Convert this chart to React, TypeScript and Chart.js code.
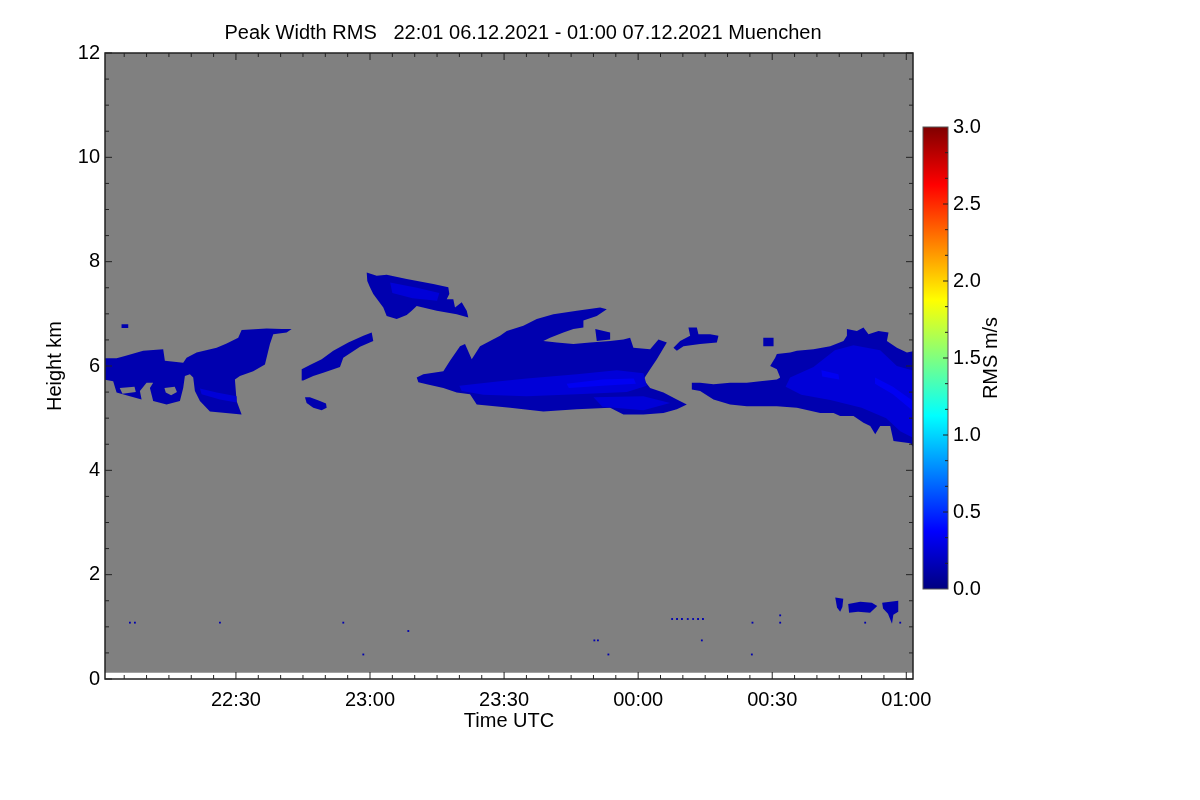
import { useEffect, useRef } from 'react';
import { Chart, registerables } from 'chart.js';

Chart.register(...registerables);

Chart.defaults.font.family = '"Liberation Sans", Arial, sans-serif';
Chart.defaults.font.size = 20;
Chart.defaults.color = '#000';

const TITLE = 'Peak Width RMS   22:01 06.12.2021 - 01:00 07.12.2021 Muenchen';
const X_TITLE = 'Time UTC';
const Y_TITLE = 'Height km';
const CB_TITLE = 'RMS m/s';

// x: minutes after 22:00 UTC, y: height in km
const X_RANGE = [0.7, 181.5];
const Y_RANGE = [0, 12];
const X_TICKS = [30, 60, 90, 120, 150, 180];
const Y_TICKS = [0, 2, 4, 6, 8, 10, 12];
const X_MINOR_STEP = 5;
const Y_MINOR_STEP = 0.5;
const DATA_FLOOR = 0.12; // lowest gate, white below

const CB_RANGE = [0, 3];
const CB_TICKS = [0, 0.5, 1, 1.5, 2, 2.5, 3];
const CB_MINOR_STEP = 0.5 / 3;

// RMS levels (m/s) of the echo regions
const RMS_BASE = 0.14;
const RMS_CORE = 0.26;
const RMS_STRONG = 0.34;
const RMS_MISSING = -1;

// outlines of the echo regions, [minutes, km]
const LEFT_LAYER = [
  [0.5, 6.15], [3.29, 6.15], [5.15, 6.19], [9.25, 6.29], [13.72, 6.32], [14.1, 6.1], [18.2, 6.06],
  [18.96, 6.16], [21.2, 6.26], [25.68, 6.35], [27.92, 6.43], [30.51, 6.54], [31.27, 6.69],
  [36.87, 6.72], [40.23, 6.71], [42.47, 6.71], [41.35, 6.64], [38.35, 6.61], [37.61, 6.42],
  [36.49, 6.03], [33.87, 5.9], [30.89, 5.81], [29.77, 5.74], [30.15, 5.33], [31.27, 5.07],
  [24.18, 5.13], [21.94, 5.33], [20.82, 5.52], [20.44, 5.78], [19.7, 5.84], [18.58, 5.81],
  [18.2, 5.58], [17.46, 5.33], [14.48, 5.26], [11.48, 5.33], [10.75, 5.58], [11.48, 5.68],
  [10.0, 5.68], [8.51, 5.52], [8.89, 5.36], [6.27, 5.42], [3.29, 5.49], [2.53, 5.71], [0.5, 5.74],
];
const LEFT_CORE = [[21.94, 5.57], [25.68, 5.49], [30.15, 5.42], [30.15, 5.3], [26.41, 5.36], [22.32, 5.46]];
const LEFT_SPOT = [[4.4, 6.8], [5.9, 6.8], [5.9, 6.73], [4.4, 6.73]];
const LEFT_HOLE_A = [[4.0, 5.58], [7.3, 5.6], [7.6, 5.5], [4.6, 5.47]];
const LEFT_HOLE_B = [[14.0, 5.58], [16.3, 5.6], [16.8, 5.5], [15.5, 5.44], [14.3, 5.49]];

const STREAK = [
  [44.71, 5.94], [46.56, 6.02], [49.18, 6.13], [51.78, 6.29], [55.14, 6.45], [58.5, 6.58],
  [60.38, 6.64], [60.73, 6.48], [57.76, 6.37], [54.02, 6.16], [53.28, 5.98], [49.54, 5.87],
  [47.3, 5.81], [45.06, 5.72], [44.71, 5.72],
];
const STREAK_SPOT = [
  [45.44, 5.4], [46.56, 5.4], [48.8, 5.33], [50.15, 5.28], [50.3, 5.2], [49.18, 5.15], [47.3, 5.2], [45.82, 5.29],
];

const UPPER_PATCH = [
  [59.26, 7.79], [61.5, 7.73], [63.73, 7.75], [68.21, 7.67], [74.17, 7.57], [77.52, 7.51],
  [77.75, 7.38], [77.16, 7.28], [78.64, 7.28], [79.02, 7.12], [80.52, 7.22], [81.64, 7.06],
  [82.0, 6.93], [79.4, 6.99], [74.93, 7.06], [70.45, 7.15], [69.33, 7.06], [68.21, 6.98],
  [65.97, 6.9], [63.73, 6.96], [62.97, 7.12], [60.73, 7.38], [59.99, 7.51], [59.39, 7.63],
];
const UPPER_CORE = [[64.5, 7.6], [70.5, 7.5], [75.5, 7.4], [75.0, 7.25], [69.5, 7.3], [65.0, 7.4]];

const MAIN_LAYER = [
  [70.45, 5.78], [71.93, 5.84], [76.41, 5.9], [77.9, 6.1], [80.14, 6.38], [81.26, 6.42],
  [82.76, 6.13], [84.62, 6.38], [86.86, 6.48], [89.1, 6.58], [90.6, 6.67], [94.31, 6.77],
  [97.31, 6.9], [101.03, 6.99], [106.27, 7.06], [111.49, 7.12], [112.98, 7.09], [110.74, 6.96],
  [107.75, 6.87], [107.75, 6.74], [105.51, 6.71], [103.27, 6.64], [100.29, 6.54], [98.79, 6.48],
  [101.79, 6.45], [105.51, 6.42], [109.25, 6.45], [113.73, 6.48], [116.7, 6.51], [118.2, 6.54],
  [118.94, 6.35], [122.68, 6.32], [124.54, 6.51], [126.42, 6.45], [124.18, 6.13], [122.68, 5.94],
  [121.18, 5.74], [122.68, 5.58], [125.66, 5.49], [128.66, 5.36], [130.89, 5.26], [128.66, 5.17],
  [125.66, 5.1], [121.18, 5.07], [116.7, 5.07], [113.73, 5.2], [106.27, 5.17], [98.79, 5.13],
  [91.34, 5.2], [83.88, 5.26], [82.38, 5.46], [79.4, 5.49], [76.41, 5.58], [72.69, 5.65], [70.82, 5.69],
];
const MAIN_PIECE = [[110.4, 6.71], [113.73, 6.64], [113.73, 6.51], [110.74, 6.48]];
const MAIN_CORE = [
  [80.0, 5.62], [88.0, 5.7], [95.07, 5.76], [106.27, 5.84], [115.22, 5.92], [121.18, 5.86],
  [121.94, 5.62], [117.46, 5.5], [106.27, 5.46], [95.07, 5.42], [85.36, 5.45], [80.5, 5.52],
];
const MAIN_CORE_LOW = [[110.0, 5.4], [121.18, 5.42], [127.16, 5.29], [121.18, 5.15], [112.0, 5.22]];
const MAIN_STREAK = [[104.0, 5.66], [112.0, 5.74], [119.0, 5.76], [119.5, 5.66], [112.0, 5.62], [104.5, 5.58]];

const MID_PATCH = [
  [131.25, 6.74], [133.13, 6.74], [133.49, 6.61], [136.11, 6.61], [137.97, 6.58], [137.61, 6.45],
  [133.87, 6.42], [130.14, 6.38], [128.66, 6.29], [127.9, 6.35], [129.39, 6.48], [131.63, 6.58],
];

const RIGHT_LAYER = [
  [132.01, 5.68], [133.87, 5.68], [136.85, 5.65], [140.57, 5.68], [144.31, 5.68], [147.3, 5.71],
  [151.04, 5.74], [151.78, 5.78], [151.04, 5.94], [149.54, 6.0], [150.66, 6.16], [151.04, 6.23],
  [154.02, 6.26], [155.52, 6.29], [159.24, 6.32], [162.97, 6.38], [165.95, 6.48], [166.71, 6.58],
  [166.71, 6.71], [168.95, 6.67], [170.42, 6.74], [171.54, 6.61], [173.78, 6.67], [176.02, 6.64],
  [175.66, 6.48], [177.9, 6.35], [180.14, 6.26], [182.0, 6.29], [182.0, 4.4], [180.88, 4.52],
  [177.14, 4.56], [176.4, 4.85], [174.16, 4.85], [173.05, 4.69], [171.93, 4.85], [170.42, 4.91],
  [168.19, 5.04], [165.2, 5.04], [163.71, 5.1], [160.73, 5.1], [159.24, 5.13], [155.52, 5.2],
  [151.04, 5.23], [144.31, 5.23], [140.57, 5.26], [136.85, 5.36], [133.87, 5.52], [132.01, 5.55],
];
const RIGHT_CORE = [
  [154.0, 5.78], [159.24, 5.98], [164.0, 6.3], [168.19, 6.4], [174.16, 6.3], [177.9, 6.0],
  [182.0, 5.9], [182.0, 4.6], [178.64, 4.75], [175.5, 5.0], [170.0, 5.2], [163.0, 5.35],
  [156.5, 5.45], [153.0, 5.6],
];
const RIGHT_STREAK_A = [[161.0, 5.92], [164.8, 5.84], [165.0, 5.74], [161.2, 5.8]];
const RIGHT_STREAK_B = [[173.0, 5.78], [177.0, 5.6], [182.0, 5.3], [182.0, 5.1], [177.0, 5.46], [173.0, 5.66]];
const RIGHT_TOP_PIECE = [[148.0, 6.54], [150.3, 6.54], [150.3, 6.38], [148.0, 6.38]];

const LOW_A = [[164.1, 1.56], [165.9, 1.54], [165.7, 1.38], [165.2, 1.29], [164.5, 1.37]];
const LOW_B = [[167.0, 1.44], [169.7, 1.48], [172.3, 1.46], [173.5, 1.4], [171.9, 1.27], [169.2, 1.29], [167.2, 1.27]];
const LOW_C = [[174.6, 1.46], [178.2, 1.5], [178.2, 1.29], [177.1, 1.23], [176.8, 1.06], [175.9, 1.25], [174.8, 1.35]];

// single gates
const SPECKLES = [
  [6.27, 1.08], [7.39, 1.08], [26.42, 1.08], [54.02, 1.08], [58.5, 0.47], [68.57, 0.92],
  [110.2, 0.74], [111.0, 0.74], [113.34, 0.47], [127.6, 1.15], [128.7, 1.15], [129.8, 1.15],
  [131.1, 1.15], [132.3, 1.15], [133.4, 1.15], [134.5, 1.15], [134.25, 0.74], [145.58, 1.08],
  [145.44, 0.47], [151.78, 1.22], [151.78, 1.08], [170.8, 1.08], [178.64, 1.08],
];

const REGIONS: { pts: number[][]; rms: number; order: number }[] = [
  { pts: LEFT_LAYER, rms: RMS_BASE, order: 4 },
  { pts: LEFT_SPOT, rms: RMS_BASE, order: 4 },
  { pts: STREAK, rms: RMS_BASE, order: 4 },
  { pts: STREAK_SPOT, rms: RMS_BASE, order: 4 },
  { pts: UPPER_PATCH, rms: RMS_BASE, order: 4 },
  { pts: MAIN_LAYER, rms: RMS_BASE, order: 4 },
  { pts: MAIN_PIECE, rms: RMS_BASE, order: 4 },
  { pts: MID_PATCH, rms: RMS_BASE, order: 4 },
  { pts: RIGHT_LAYER, rms: RMS_BASE, order: 4 },
  { pts: RIGHT_TOP_PIECE, rms: RMS_BASE, order: 4 },
  { pts: LOW_A, rms: RMS_BASE, order: 4 },
  { pts: LOW_B, rms: RMS_BASE, order: 4 },
  { pts: LOW_C, rms: RMS_BASE, order: 4 },
  { pts: LEFT_HOLE_A, rms: RMS_MISSING, order: 3 },
  { pts: LEFT_HOLE_B, rms: RMS_MISSING, order: 3 },
  { pts: LEFT_CORE, rms: RMS_CORE, order: 2 },
  { pts: UPPER_CORE, rms: RMS_CORE, order: 2 },
  { pts: MAIN_CORE, rms: RMS_CORE, order: 2 },
  { pts: MAIN_CORE_LOW, rms: RMS_CORE, order: 2 },
  { pts: RIGHT_CORE, rms: RMS_CORE, order: 2 },
  { pts: MAIN_STREAK, rms: RMS_STRONG, order: 1 },
  { pts: RIGHT_STREAK_A, rms: RMS_STRONG, order: 1 },
  { pts: RIGHT_STREAK_B, rms: RMS_STRONG, order: 1 },
];

const GRAY = '#808080';

const clamp = (v: number) => Math.min(1, Math.max(0, v));

// jet colour table, p in 0..1
const jet = (p: number) => {
  const q = clamp(p);
  const r = clamp(1.5 - Math.abs(4 * q - 3));
  const g = clamp(1.5 - Math.abs(4 * q - 2));
  const b = clamp(1.5 - Math.abs(4 * q - 1));
  return `rgb(${Math.round(r * 255)},${Math.round(g * 255)},${Math.round(b * 255)})`;
};

const rmsColor = (v: number) => (v < 0 ? GRAY : jet((v - CB_RANGE[0]) / (CB_RANGE[1] - CB_RANGE[0])));

const fmtTime = (m: number) => {
  const h = (22 + Math.floor(m / 60)) % 24;
  const mm = Math.round(m % 60);
  return `${String(h).padStart(2, '0')}:${String(mm).padStart(2, '0')}`;
};

const drawTicks = (ctx: CanvasRenderingContext2D, vertical: boolean, scale: any, from: number, to: number, step: number, majors: number[], a: any) => {
  const isMajor = (v: number) => majors.some((m) => Math.abs(m - v) < 1e-6);
  for (let i = Math.ceil(from / step); i * step <= to + 1e-9; i++) {
    const v = i * step;
    const len = isMajor(v) ? 7 : 4;
    const p = scale.getPixelForValue(v);
    ctx.beginPath();
    if (vertical) {
      ctx.moveTo(a.left, p); ctx.lineTo(a.left + len, p);
      ctx.moveTo(a.right, p); ctx.lineTo(a.right - len, p);
    } else {
      ctx.moveTo(p, a.bottom); ctx.lineTo(p, a.bottom - len);
      ctx.moveTo(p, a.top); ctx.lineTo(p, a.top + len);
    }
    ctx.stroke();
  }
};

const framePlugin = {
  id: 'frame',
  beforeDatasetsDraw(chart: any) {
    const { ctx, chartArea: a, scales } = chart;
    const top = scales.y.getPixelForValue(Y_RANGE[1]);
    const bot = scales.y.getPixelForValue(DATA_FLOOR);
    ctx.save();
    ctx.fillStyle = GRAY;
    ctx.fillRect(a.left, top, a.right - a.left, bot - top);
    ctx.restore();
  },
  afterDraw(chart: any) {
    const { ctx, chartArea: a, scales } = chart;
    ctx.save();
    ctx.strokeStyle = '#222';
    ctx.lineWidth = 1.5;
    ctx.strokeRect(a.left, a.top, a.right - a.left, a.bottom - a.top);
    ctx.lineWidth = 1;
    drawTicks(ctx, false, scales.x, X_RANGE[0], X_RANGE[1], X_MINOR_STEP, X_TICKS, a);
    drawTicks(ctx, true, scales.y, Y_RANGE[0], Y_RANGE[1], Y_MINOR_STEP, Y_TICKS, a);
    ctx.fillStyle = '#000';
    ctx.font = '20px "Liberation Sans", Arial, sans-serif';
    ctx.textAlign = 'center';
    ctx.textBaseline = 'middle';
    ctx.fillText(TITLE, (a.left + a.right) / 2 + 14, 33);
    ctx.restore();
  },
};

const colorbarPlugin = {
  id: 'colorbarFrame',
  afterDraw(chart: any) {
    const { ctx, chartArea: a, scales } = chart;
    ctx.save();
    ctx.strokeStyle = '#555';
    ctx.lineWidth = 1;
    ctx.strokeRect(a.left, a.top, a.right - a.left, a.bottom - a.top);
    ctx.strokeStyle = '#222';
    for (let i = 1; i * CB_MINOR_STEP < CB_RANGE[1] - 1e-6; i++) {
      const p = scales.y.getPixelForValue(i * CB_MINOR_STEP);
      const len = i % 3 === 0 ? 5 : 3;
      ctx.beginPath();
      ctx.moveTo(a.right, p);
      ctx.lineTo(a.right - len, p);
      ctx.stroke();
    }
    ctx.translate(a.right + 43, (a.top + a.bottom) / 2);
    ctx.rotate(-Math.PI / 2);
    ctx.fillStyle = '#000';
    ctx.font = '20px "Liberation Sans", Arial, sans-serif';
    ctx.textAlign = 'center';
    ctx.textBaseline = 'middle';
    ctx.fillText(CB_TITLE, 0, 0);
    ctx.restore();
  },
};

export default function App() {
  const plotRef = useRef<HTMLCanvasElement | null>(null);
  const barRef = useRef<HTMLCanvasElement | null>(null);

  useEffect(() => {
    if (!plotRef.current || !barRef.current) return;

    const datasets: any[] = REGIONS.map((r) => ({
      type: 'line',
      data: r.pts.map(([x, y]) => ({ x, y })),
      backgroundColor: rmsColor(r.rms),
      borderColor: 'rgba(0,0,0,0)',
      borderWidth: 0,
      pointRadius: 0,
      fill: 'shape',
      tension: 0,
      order: r.order,
    }));
    datasets.push({
      type: 'scatter',
      data: SPECKLES.map(([x, y]) => ({ x, y })),
      backgroundColor: rmsColor(RMS_BASE),
      borderWidth: 0,
      pointStyle: 'rect',
      pointRadius: 1.3,
      order: 0,
    });

    const plot = new Chart(plotRef.current, {
      type: 'line',
      data: { datasets },
      options: {
        animation: false,
        responsive: false,
        devicePixelRatio: 1,
        layout: { padding: { left: 43, top: 53, right: 287, bottom: 67 } },
        plugins: { legend: { display: false }, tooltip: { enabled: false }, title: { display: false } },
        scales: {
          x: {
            type: 'linear',
            min: X_RANGE[0],
            max: X_RANGE[1],
            afterBuildTicks: (s: any) => { s.ticks = X_TICKS.map((value) => ({ value })); },
            afterFit: (s: any) => { s.height = 54; },
            ticks: { padding: 9, maxRotation: 0, callback: (v: any) => fmtTime(Number(v)) },
            grid: { display: false, drawTicks: false },
            border: { display: false },
            title: { display: true, text: X_TITLE, padding: 0 },
          },
          y: {
            type: 'linear',
            min: Y_RANGE[0],
            max: Y_RANGE[1],
            afterBuildTicks: (s: any) => { s.ticks = Y_TICKS.map((value) => ({ value })); },
            afterFit: (s: any) => { s.width = 62; },
            ticks: { padding: 5 },
            grid: { display: false, drawTicks: false },
            border: { display: false },
            title: { display: true, text: Y_TITLE, padding: 0 },
          },
        },
      },
      plugins: [framePlugin],
    });

    const bar = new Chart(barRef.current, {
      type: 'bar',
      data: {
        labels: [''],
        datasets: [{
          data: [CB_RANGE as any],
          borderWidth: 0,
          barPercentage: 1,
          categoryPercentage: 1,
          backgroundColor: (c: any) => {
            const area = c.chart.chartArea;
            if (!area || !isFinite(area.top) || !isFinite(area.bottom)) return jet(0);
            const g = c.chart.ctx.createLinearGradient(0, area.bottom, 0, area.top);
            [0, 0.125, 0.375, 0.625, 0.875, 1].forEach((p) => g.addColorStop(p, jet(p)));
            return g;
          },
        }],
      },
      options: {
        animation: false,
        responsive: false,
        devicePixelRatio: 1,
        layout: { padding: { left: 23, top: 127, right: 0, bottom: 211 } },
        plugins: { legend: { display: false }, tooltip: { enabled: false } },
        scales: {
          x: { display: false },
          y: {
            position: 'right',
            min: CB_RANGE[0],
            max: CB_RANGE[1],
            afterBuildTicks: (s: any) => { s.ticks = CB_TICKS.map((value) => ({ value })); },
            afterFit: (s: any) => { s.width = 252; },
            ticks: { padding: 5, callback: (v: any) => Number(v).toFixed(1) },
            grid: { display: false, drawTicks: false },
            border: { display: false },
          },
        },
      },
      plugins: [colorbarPlugin],
    });

    return () => {
      plot.destroy();
      bar.destroy();
    };
  }, []);

  return (
    <div style={{ position: 'fixed', left: 0, top: 0, width: 1200, height: 800, background: '#fff' }}>
      <canvas ref={plotRef} width={1200} height={800} style={{ position: 'absolute', left: 0, top: 0, width: 1200, height: 800 }} />
      <canvas ref={barRef} width={300} height={800} style={{ position: 'absolute', left: 900, top: 0, width: 300, height: 800 }} />
    </div>
  );
}
